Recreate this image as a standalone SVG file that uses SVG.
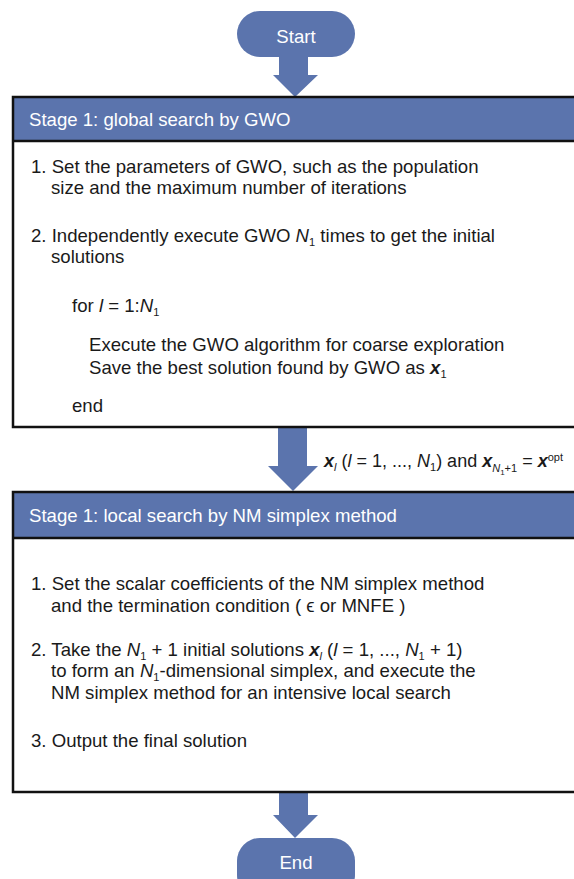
<svg xmlns="http://www.w3.org/2000/svg" width="574" height="879" viewBox="0 0 574 879">
<style>
.t{font-family:"Liberation Sans",Arial,sans-serif;font-size:18.6px;fill:#1a1a1a}
.h{font-family:"Liberation Sans",Arial,sans-serif;font-size:18.6px;fill:#ffffff}
.w{font-family:"Liberation Sans",Arial,sans-serif;font-size:18.6px;fill:#ffffff}
.blue{fill:#5B74AD}
.frame{fill:none;stroke:#111;stroke-width:2.5}
.i{font-style:italic}
.b{font-weight:bold;font-style:italic}
.s{font-size:11px}
</style>
<g id="connectors">
<polygon class="blue" points="279,55 308,55 308,75 318,75 295,97 273,75 279,75"/>
<polygon class="blue" points="278,428 307,428 307,466 318,466 293,491 268,466 278,466"/>
<polygon class="blue" points="279,793 308,793 308,815 318,815 295,838 273,815 279,815"/>
<text class="t" x="324" y="467" style="font-size:18px"><tspan class="b">x</tspan><tspan class="s i" dy="4">l</tspan><tspan dy="-4"> (</tspan><tspan class="i">l</tspan> = 1, ..., <tspan class="i">N</tspan><tspan class="s" dy="4">1</tspan><tspan dy="-4">) and </tspan><tspan class="b">x</tspan><tspan class="s i" dy="5">N</tspan><tspan class="s" style="font-size:8px" dy="3">1</tspan><tspan class="s" dy="-3">+1</tspan><tspan dy="-5"> = </tspan><tspan class="b">x</tspan><tspan class="s" dy="-6">opt</tspan></text>
</g>
<g id="start">
<rect class="blue" x="237" y="11" width="118" height="46" rx="23"/>
<text class="w" x="296" y="43" text-anchor="middle">Start</text>
</g>
<g id="stage1">
<rect class="blue" x="13" y="97" width="570" height="44"/>
<rect class="frame" x="13" y="97" width="570" height="330"/>
<line x1="13" y1="141" x2="583" y2="141" stroke="#111" stroke-width="2.5"/>
<text class="h" x="29" y="126">Stage 1: global search by GWO</text>
<text class="t" x="31" y="173">1. Set the parameters of GWO, such as the population</text>
<text class="t" x="51" y="194">size and the maximum number of iterations</text>
<text class="t" x="31" y="242">2. Independently execute GWO <tspan class="i">N</tspan><tspan class="s" dy="4">1</tspan><tspan dy="-4"> times to get the initial</tspan></text>
<text class="t" x="51" y="263">solutions</text>
<text class="t" x="72" y="312">for <tspan class="i">l</tspan> = 1:<tspan class="i">N</tspan><tspan class="s" dy="4">1</tspan></text>
<text class="t" x="89" y="351">Execute the GWO algorithm for coarse exploration</text>
<text class="t" x="89" y="374">Save the best solution found by GWO as <tspan class="b">x</tspan><tspan class="s" dy="4">1</tspan></text>
<text class="t" x="72" y="412">end</text>
</g>
<g id="stage2">
<rect class="blue" x="13" y="492" width="570" height="46"/>
<rect class="frame" x="13" y="492" width="570" height="300"/>
<line x1="13" y1="538" x2="583" y2="538" stroke="#111" stroke-width="2.5"/>
<text class="h" x="29" y="522">Stage 1: local search by NM simplex method</text>
<text class="t" x="31" y="590">1. Set the scalar coefficients of the NM simplex method</text>
<text class="t" x="51" y="612">and the termination condition ( ϵ or MNFE )</text>
<text class="t" x="31" y="656">2. Take the <tspan class="i">N</tspan><tspan class="s" dy="4">1</tspan><tspan dy="-4"> + 1 initial solutions </tspan><tspan class="b">x</tspan><tspan class="s i" dy="4">l</tspan><tspan dy="-4"> (</tspan><tspan class="i">l</tspan> = 1, ..., <tspan class="i">N</tspan><tspan class="s" dy="4">1</tspan><tspan dy="-4"> + 1)</tspan></text>
<text class="t" x="51" y="677">to form an <tspan class="i">N</tspan><tspan class="s" dy="4">1</tspan><tspan dy="-4">-dimensional simplex, and execute the</tspan></text>
<text class="t" x="51" y="699">NM simplex method for an intensive local search</text>
<text class="t" x="31" y="747">3. Output the final solution</text>
</g>
<g id="end">
<rect class="blue" x="237" y="838" width="118" height="60" rx="23"/>
<text class="w" x="296" y="869" text-anchor="middle">End</text>
</g>
</svg>
